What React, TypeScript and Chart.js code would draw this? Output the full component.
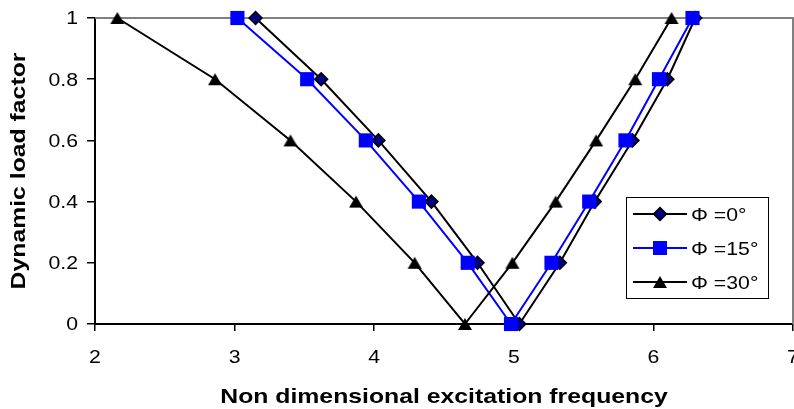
import React, { useEffect, useRef } from "react";
import { Chart, registerables } from "chart.js";

Chart.register(...registerables);

// ---- data ----
const yValues = [1, 0.8, 0.6, 0.4, 0.2, 0, 0.2, 0.4, 0.6, 0.8, 1];
const phi0X = [3.15, 3.62, 4.03, 4.41, 4.74, 5.04, 5.33, 5.58, 5.85, 6.1, 6.3];
const phi15X = [3.02, 3.52, 3.94, 4.32, 4.67, 4.98, 5.27, 5.54, 5.8, 6.04, 6.28];
const phi30X = [2.16, 2.86, 3.4, 3.87, 4.29, 4.65, 4.99, 5.3, 5.59, 5.87, 6.13];
const seriesLabels = ["Φ =0°", "Φ =15°", "Φ =30°"];
const xTicks = [2, 3, 4, 5, 6, 7];
const yTicks = [0, 0.2, 0.4, 0.6, 0.8, 1];
const xTitle = "Non dimensional excitation frequency";
const yTitle = "Dynamic load factor";

const FONT = "'Liberation Sans', Arial, sans-serif";
const SX = 1.18; // wide text rendering as in the reference

function drawText(
  ctx: CanvasRenderingContext2D,
  text: string,
  x: number,
  y: number,
  font: string,
  align: CanvasTextAlign,
  rot = 0
) {
  ctx.save();
  ctx.translate(x, y);
  if (rot) ctx.rotate(rot);
  ctx.scale(SX, 1);
  ctx.font = font;
  ctx.textAlign = align;
  ctx.textBaseline = "alphabetic";
  ctx.fillStyle = "#000";
  ctx.fillText(text, 0, 0);
  ctx.restore();
}

function makeTriangle(): HTMLCanvasElement {
  const c = document.createElement("canvas");
  c.width = 16;
  c.height = 14;
  const g = c.getContext("2d")!;
  g.fillStyle = "#000";
  g.beginPath();
  g.moveTo(8, 1);
  g.lineTo(15, 13);
  g.lineTo(1, 13);
  g.closePath();
  g.fill();
  return c;
}

export default function App() {
  const ref = useRef<HTMLCanvasElement | null>(null);

  useEffect(() => {
    if (!ref.current) return;
    const tri = makeTriangle();
    const toPts = (xs: number[]) => xs.map((x, i) => ({ x, y: yValues[i] }));

    const decor = {
      id: "decor",
      beforeDatasetsDraw(chart: any) {
        const { ctx, chartArea } = chart;
        ctx.save();
        ctx.strokeStyle = "#808080";
        ctx.lineWidth = 2;
        ctx.beginPath();
        ctx.moveTo(chartArea.left, chartArea.top);
        ctx.lineTo(chartArea.right, chartArea.top);
        ctx.lineTo(chartArea.right, chartArea.bottom);
        ctx.stroke();
        ctx.restore();
      },
      afterDraw(chart: any) {
        const { ctx, chartArea } = chart;
        const xs = chart.scales.x;
        const ys = chart.scales.y;
        const tickFont = `18px ${FONT}`;
        yTicks.forEach((v) => {
          drawText(ctx, String(v), 78, ys.getPixelForValue(v) + 6.4, tickFont, "right");
        });
        xTicks.forEach((v) => {
          drawText(ctx, String(v), xs.getPixelForValue(v), 363, tickFont, "center");
        });
        const titleFont = `bold 21px ${FONT}`;
        drawText(ctx, xTitle, 444, 403, titleFont, "center");
        drawText(ctx, yTitle, 25, (chartArea.top + chartArea.bottom) / 2, titleFont, "center", -Math.PI / 2);

        // legend
        ctx.save();
        ctx.fillStyle = "#fff";
        ctx.strokeStyle = "#000";
        ctx.lineWidth = 1;
        ctx.fillRect(626.5, 197.5, 142, 101);
        ctx.strokeRect(626.5, 197.5, 142, 101);
        const rows = [214, 248, 282];
        const colors = ["#000", "#0000FF", "#000"];
        rows.forEach((ry, i) => {
          ctx.strokeStyle = colors[i];
          ctx.lineWidth = 2;
          ctx.beginPath();
          ctx.moveTo(633, ry);
          ctx.lineTo(687, ry);
          ctx.stroke();
          const cx = 660;
          if (i === 0) {
            ctx.beginPath();
            ctx.moveTo(cx, ry - 6.5);
            ctx.lineTo(cx + 6.5, ry);
            ctx.lineTo(cx, ry + 6.5);
            ctx.lineTo(cx - 6.5, ry);
            ctx.closePath();
            ctx.fillStyle = "#000080";
            ctx.fill();
            ctx.lineWidth = 1.5;
            ctx.strokeStyle = "#000";
            ctx.stroke();
          } else if (i === 1) {
            ctx.fillStyle = "#0000FF";
            ctx.fillRect(cx - 7, ry - 7, 14, 14);
          } else {
            ctx.drawImage(tri, cx - 8, ry - 7);
          }
          drawText(ctx, seriesLabels[i], 691, ry + 6.5, `18px ${FONT}`, "left");
        });
        ctx.restore();
      },
    };

    const chart = new Chart(ref.current, {
      type: "line",
      data: {
        datasets: [
          {
            label: seriesLabels[0],
            data: toPts(phi0X),
            borderColor: "#000",
            borderWidth: 2,
            pointStyle: "rectRot",
            pointRadius: 6.5,
            pointBackgroundColor: "#000080",
            pointBorderColor: "#000",
            pointBorderWidth: 1.5,
            order: 3,
            clip: false,
          },
          {
            label: seriesLabels[1],
            data: toPts(phi15X),
            borderColor: "#0000FF",
            borderWidth: 2,
            pointStyle: "rect",
            pointRadius: 10,
            pointBackgroundColor: "#0000FF",
            pointBorderColor: "#0000FF",
            pointBorderWidth: 0,
            order: 2,
            clip: false,
          },
          {
            label: seriesLabels[2],
            data: toPts(phi30X),
            borderColor: "#000",
            borderWidth: 2,
            pointStyle: tri as any,
            pointRadius: 8,
            pointBackgroundColor: "#000",
            pointBorderColor: "#000",
            order: 1,
            clip: false,
          },
        ],
      },
      options: {
        animation: false,
        responsive: false,
        devicePixelRatio: 1,
        layout: { autoPadding: false, padding: { top: 18, left: 0, right: 1, bottom: 0 } },
        plugins: { legend: { display: false }, tooltip: { enabled: false } },
        elements: { line: { tension: 0 } },
        scales: {
          x: {
            type: "linear",
            min: 2,
            max: 7,
            afterBuildTicks: (s: any) => {
              s.ticks = xTicks.map((v) => ({ value: v }));
            },
            ticks: { display: false },
            grid: {
              display: true,
              drawOnChartArea: false,
              drawTicks: true,
              tickLength: 7,
              color: "#000",
              lineWidth: 1.5,
            },
            border: { display: true, color: "#000", width: 2 },
            afterFit: (s: any) => {
              s.height = 85;
              s.paddingLeft = 0;
              s.paddingRight = 0;
            },
          },
          y: {
            type: "linear",
            min: 0,
            max: 1,
            afterBuildTicks: (s: any) => {
              s.ticks = yTicks.map((v) => ({ value: v }));
            },
            ticks: { display: false },
            grid: {
              display: true,
              drawOnChartArea: false,
              drawTicks: true,
              tickLength: 8,
              color: "#000",
              lineWidth: 1.5,
            },
            border: { display: true, color: "#000", width: 2 },
            afterFit: (s: any) => {
              s.width = 95;
              s.paddingTop = 0;
              s.paddingBottom = 0;
            },
          },
        },
      },
      plugins: [decor],
    } as any);

    return () => chart.destroy();
  }, []);

  return (
    <div style={{ position: "absolute", left: 0, top: 0, width: 794, height: 409, background: "#fff" }}>
      <canvas ref={ref} width={794} height={409} style={{ display: "block", width: 794, height: 409 }} />
    </div>
  );
}
